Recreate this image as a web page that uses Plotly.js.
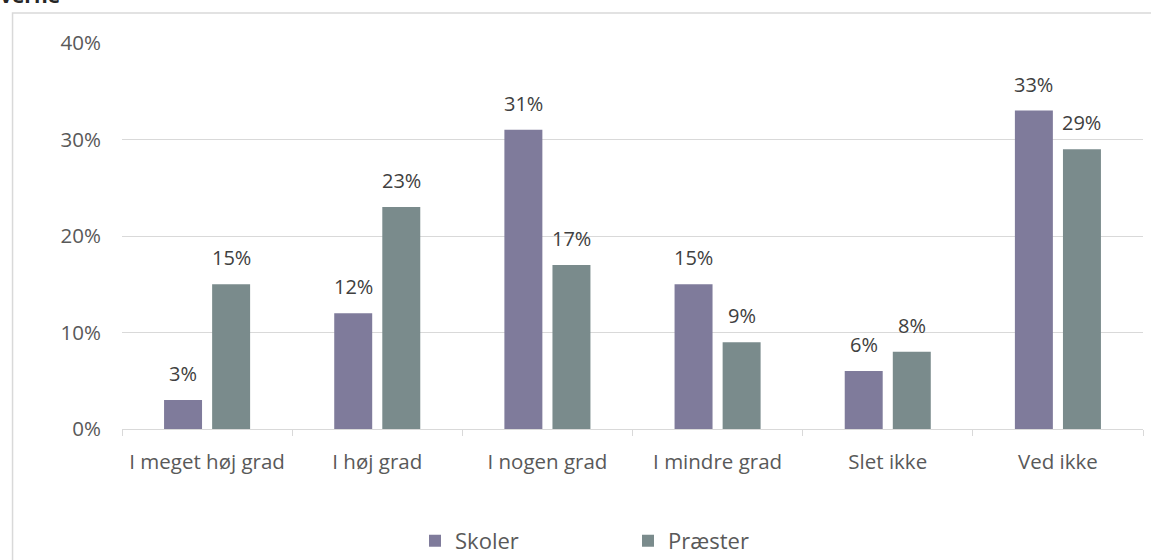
<!DOCTYPE html>
<html><head><meta charset="utf-8">
<script src="https://cdn.plot.ly/plotly-3.0.1.min.js"></script>
<style>body{margin:0;background:#fff}#chart{width:1151px;height:560px}</style>
</head><body><div id="chart"></div>
<script>
const categories = ["I meget høj grad","I høj grad","I nogen grad","I mindre grad","Slet ikke","Ved ikke"];
const skoler = [3,12,31,15,6,33];
const praester = [15,23,17,9,8,29];
const seriesNames = ["Skoler","Præster"];
const yTicks = [0,10,20,30,40];
const yTickText = ["0%","10%","20%","30%","40%"];

const FONT = "Open Sans, Noto Sans, sans-serif";
const colS = "rgb(127,123,155)";
const colP = "rgb(122,139,140)";

const traces = [
  {type:"bar", name:seriesNames[0], x:categories, y:skoler, marker:{color:colS}, hoverinfo:"none"},
  {type:"bar", name:seriesNames[1], x:categories, y:praester, marker:{color:colP}, hoverinfo:"none"}
];

const annotations = [];
[skoler, praester].forEach((arr, si) => {
  arr.forEach((v, i) => {
    annotations.push({x:categories[i], y:v, xref:"x", yref:"y", text:v+"%", showarrow:false,
      xanchor:"center", yanchor:"bottom", xshift: si===0 ? -24 : 24, yshift:11,
      font:{family:FONT, size:20, color:"#404040"}});
  });
});
annotations.push({xref:"paper", yref:"paper", x:-0.121, y:1.083, xanchor:"left", yanchor:"bottom",
  text:"<b>verne</b>", showarrow:false, font:{family:FONT, size:21, color:"#262626"}});

const layout = {
  width:1151, height:560,
  margin:{l:122, r:8, t:43, b:131, autoexpand:false},
  paper_bgcolor:"#fff", plot_bgcolor:"#fff",
  barmode:"group", bargap:0.435, bargroupgap:0.21,
  font:{family:FONT, size:20, color:"#595959"},
  showlegend:true,
  legend:{orientation:"h", x:0.287, y:-0.29, xanchor:"left", yanchor:"middle",
    entrywidth:168, font:{family:FONT, size:22, color:"#595959"}, itemwidth:30},
  xaxis:{type:"category", showgrid:false, showline:true, linecolor:"#d9d9d9", linewidth:1,
    ticks:"outside", tickson:"boundaries", ticklen:6, tickcolor:"#d9d9d9", automargin:false,
    tickfont:{family:FONT, size:20.5, color:"#595959"}, ticklabelstandoff:14, fixedrange:true},
  yaxis:{range:[0,40], tickvals:yTicks, ticktext:yTickText, showgrid:true, gridcolor:"#d9d9d9",
    zeroline:false, showline:false, ticks:"", ticklabelstandoff:20, automargin:false,
    tickfont:{family:FONT, size:20.5, color:"#595959"}, fixedrange:true},
  annotations:annotations,
  shapes:[{type:"rect", xref:"paper", yref:"paper", x0:-0.1072, x1:1.05, y0:-0.4, y1:1.0777,
    line:{color:"#d9d9d9", width:1.5}, fillcolor:"rgba(0,0,0,0)", layer:"below"}]
};
Plotly.newPlot("chart", traces, layout, {displayModeBar:false, staticPlot:true});
</script></body></html>
